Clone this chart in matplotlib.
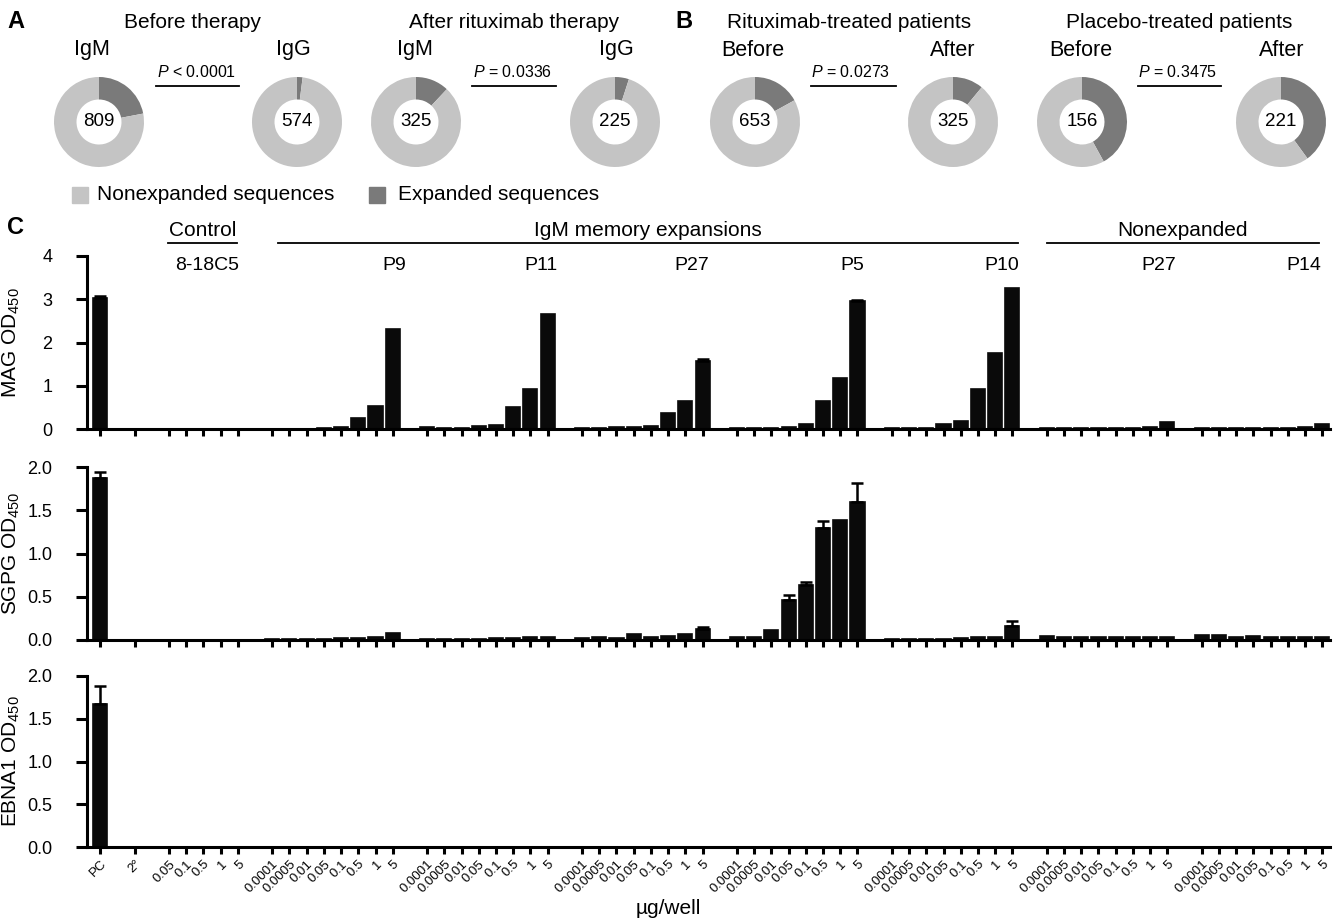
import matplotlib.pyplot as plt
import numpy as np
from matplotlib.patches import Rectangle
from matplotlib.lines import Line2D

plt.rcParams['font.family'] = ['Liberation Sans', 'DejaVu Sans']
plt.rcParams['mathtext.fontset'] = 'custom'
plt.rcParams['mathtext.rm'] = 'Liberation Sans'
plt.rcParams['mathtext.it'] = 'Liberation Sans:italic'

# ---- panels A and B: donuts ----
donut_n = [809, 574, 325, 225, 653, 325, 156, 221]
donut_expanded = [0.22, 0.02, 0.12, 0.05, 0.17, 0.11, 0.42, 0.40]
donut_tops = ['IgM', 'IgG', 'IgM', 'IgG', 'Before', 'After', 'Before', 'After']
pair_titles = ['Before therapy', 'After rituximab therapy',
               'Rituximab-treated patients', 'Placebo-treated patients']
pair_pvals = [r'$\it{P}$ < 0.0001', r'$\it{P}$ = 0.0336',
              r'$\it{P}$ = 0.0273', r'$\it{P}$ = 0.3475']
legend_labels = ['Nonexpanded sequences', 'Expanded sequences']

# ---- panel C: ELISA ----
ctrl_doses = ['0.05', '0.1', '0.5', '1', '5']
doses = ['0.0001', '0.0005', '0.01', '0.05', '0.1', '0.5', '1', '5']
groups = ['8-18C5', 'P9', 'P11', 'P27', 'P5', 'P10', 'P27', 'P14']
headers = ['Control', 'IgM memory expansions', 'Nonexpanded']

mag_pc, mag_pc_err = 3.03, 0.05
mag_2nd = 0.01
mag = [[0.01, 0.01, 0.01, 0.01, 0.01],
       [0.01, 0.01, 0.01, 0.02, 0.04, 0.26, 0.53, 2.31],
       [0.04, 0.02, 0.03, 0.06, 0.10, 0.50, 0.93, 2.66],
       [0.02, 0.02, 0.04, 0.05, 0.08, 0.38, 0.65, 1.57],
       [0.03, 0.03, 0.03, 0.05, 0.12, 0.65, 1.17, 2.95],
       [0.02, 0.02, 0.03, 0.12, 0.19, 0.92, 1.76, 3.25],
       [0.02, 0.02, 0.02, 0.02, 0.02, 0.02, 0.05, 0.17],
       [0.02, 0.02, 0.02, 0.02, 0.02, 0.02, 0.04, 0.12]]
mag_err = [[0] * 5,
           [0] * 8,
           [0] * 8,
           [0, 0, 0, 0, 0, 0, 0, 0.05],
           [0, 0, 0, 0, 0, 0, 0, 0.04],
           [0] * 8,
           [0] * 8,
           [0] * 8]

sgpg_pc, sgpg_pc_err = 1.87, 0.07
sgpg_2nd = 0.005
sgpg = [[0.005, 0.005, 0.005, 0.005, 0.005],
        [0.01, 0.01, 0.01, 0.01, 0.02, 0.02, 0.03, 0.08],
        [0.01, 0.01, 0.01, 0.01, 0.02, 0.02, 0.03, 0.03],
        [0.02, 0.04, 0.02, 0.07, 0.04, 0.05, 0.07, 0.13],
        [0.04, 0.03, 0.12, 0.46, 0.64, 1.30, 1.39, 1.60],
        [0.01, 0.01, 0.01, 0.01, 0.02, 0.03, 0.04, 0.16],
        [0.05, 0.04, 0.04, 0.03, 0.03, 0.03, 0.03, 0.04],
        [0.06, 0.06, 0.04, 0.05, 0.03, 0.03, 0.03, 0.04]]
sgpg_err = [[0] * 5,
            [0] * 8,
            [0] * 8,
            [0, 0, 0, 0, 0, 0, 0, 0.02],
            [0, 0, 0, 0.06, 0.03, 0.07, 0, 0.22],
            [0, 0, 0, 0, 0, 0, 0, 0.06],
            [0] * 8,
            [0] * 8]

ebna_pc, ebna_pc_err = 1.67, 0.21
ebna_2nd = 0.0
ebna = [[0.0] * 5] + [[0.0] * 8 for _ in range(7)]
ebna_err = [[0] * 5] + [[0] * 8 for _ in range(7)]

W, H = 1337, 924
fig = plt.figure(figsize=(W / 100, H / 100), dpi=100)


def fx(x):
    return x / W


def fy(y):
    return 1 - y / H


light, dark = '#c4c4c4', '#7a7a7a'

# donuts
donut_cx = [99, 297, 416, 615, 755, 953, 1082, 1281]
donut_cy, rad = 122, 45
top_cx = [92, 293, 415, 616, 753, 953, 1081, 1282]
for i in range(8):
    a = fig.add_axes([fx(donut_cx[i] - rad), fy(donut_cy + rad), 2 * rad / W, 2 * rad / H])
    f = donut_expanded[i]
    a.pie([f, 1 - f], colors=[dark, light], startangle=90, counterclock=False,
          radius=1, wedgeprops=dict(width=0.5, linewidth=0))
    a.set_xlim(-1, 1)
    a.set_ylim(-1, 1)
    a.set_aspect('auto')
    a.axis('off')
    a.text(0, 0, str(donut_n[i]), ha='center', va='center', fontsize=13.5)
    fig.text(fx(top_cx[i]), fy(50), donut_tops[i], ha='center', va='center', fontsize=15.5)

title_cx = [192, 514, 849, 1179]
p_cx = [197, 513, 851, 1178]
p_lines = [(156, 239), (472, 556), (811, 896), (1138, 1221)]
for i in range(4):
    fig.text(fx(title_cx[i]), fy(23), pair_titles[i], ha='center', va='center', fontsize=15)
    fig.text(fx(p_cx[i]), fy(72), pair_pvals[i], ha='center', va='center', fontsize=11.5)
    fig.add_artist(Line2D([fx(p_lines[i][0]), fx(p_lines[i][1])], [fy(86), fy(86)],
                          color='black', lw=1.3))

# legend
for x0, col, lab, tx in [(72, light, legend_labels[0], 97), (369, dark, legend_labels[1], 398)]:
    fig.add_artist(Rectangle((fx(x0), fy(203)), 16 / W, 16 / H, color=col,
                             transform=fig.transFigure))
    fig.text(fx(tx), fy(195), lab, ha='left', va='center', fontsize=15)

for lab, x, y in [('A', 16, 22), ('B', 684, 22), ('C', 16, 228)]:
    fig.text(fx(x), fy(y), lab, ha='center', va='center', fontsize=17, fontweight='heavy')

# ---- bar positions ----
pos = [0, 2]
labels = ['PC', '2°']
group_pos = []
start = 4
for gi, g in enumerate(groups):
    d = ctrl_doses if gi == 0 else doses
    p = list(range(start, start + len(d)))
    group_pos.append(p)
    pos += p
    labels += d
    start = p[-1] + 2

xl = (-0.76, 71.45)
ax_left, ax_w = fx(87), 1243 / W


def panel(y0, y1, ymax, pcv, pce, sec, vals, errs, yl, ticks, fmt, xt):
    ax = fig.add_axes([ax_left, fy(y0), ax_w, (y0 - y1) / H])
    ax.bar(pos[0], pcv, width=0.82, color='#0a0a0a', edgecolor='#0a0a0a', lw=1.2)
    ax.errorbar(pos[0], pcv, yerr=[[0], [pce]], fmt='none', ecolor='black',
                elinewidth=1.8, capsize=4, capthick=1.8)
    ax.bar(pos[1], sec, width=0.82, color='#0a0a0a', edgecolor='#0a0a0a', lw=1.2)
    for gi in range(len(groups)):
        p = np.array(group_pos[gi])
        v = np.array(vals[gi])
        e = np.array(errs[gi])
        ax.bar(p, v, width=0.82, color='#0a0a0a', edgecolor='#0a0a0a',
               lw=1.2 if v.max() > 0 else 0)
        m = e > 0
        if m.any():
            ax.errorbar(p[m], v[m], yerr=[np.zeros(m.sum()), e[m]], fmt='none',
                        ecolor='black', elinewidth=1.8, capsize=4, capthick=1.8)
    ax.set_xlim(*xl)
    ax.set_ylim(0, ymax)
    ax.set_yticks(ticks)
    ax.set_yticklabels([fmt.format(t) for t in ticks], fontsize=13)
    ax.set_xticks(pos)
    if xt:
        ax.set_xticklabels(labels, rotation=45, ha='right', va='top',
                           rotation_mode='anchor', fontsize=9.5)
    else:
        ax.set_xticklabels([])
    for s in ['top', 'right']:
        ax.spines[s].set_visible(False)
    for s in ['left', 'bottom']:
        ax.spines[s].set_linewidth(2.2)
    ax.tick_params(axis='y', length=8, width=2.2, pad=17)
    ax.tick_params(axis='x', length=5, width=2.2, pad=3)
    ax.set_ylabel(yl, fontsize=15)
    ax.yaxis.set_label_coords((22 - 87) / 1243, 0.5)
    return ax


ax1 = panel(429, 256, 4, mag_pc, mag_pc_err, mag_2nd, mag, mag_err,
            r'MAG OD$_{450}$', [0, 1, 2, 3, 4], '{:g}', False)
panel(640, 467, 2, sgpg_pc, sgpg_pc_err, sgpg_2nd, sgpg, sgpg_err,
      r'SGPG OD$_{450}$', [0, 0.5, 1, 1.5, 2], '{:.1f}', False)
ax3 = panel(847, 676, 2, ebna_pc, ebna_pc_err, ebna_2nd, ebna, ebna_err,
            r'EBNA1 OD$_{450}$', [0, 0.5, 1, 1.5, 2], '{:.1f}', True)
fig.text(fx(668), fy(908), 'µg/well', ha='center', va='center', fontsize=15)

# group headers above panel C
tr = ax1.get_xaxis_transform()
hpx = 173.0
header_spans = [(3.95, 7.95), (10.35, 53.3), (55.0, 70.8)]
for h, (a, b) in zip(headers, header_spans):
    ax1.plot([a, b], [(429 - 243) / hpx] * 2, color='black', lw=1.3,
             transform=tr, clip_on=False)
    ax1.text((a + b) / 2, (429 - 230) / hpx, h, transform=tr, ha='center',
             va='center', fontsize=15)
group_label_x = [6.2, 17.1, 25.6, 34.4, 43.7, 52.4, 61.5, 69.9]
for g, gx in zip(groups, group_label_x):
    ax1.text(gx, (429 - 266) / hpx, g, transform=tr, ha='center', va='center',
             fontsize=14)

fig.savefig('out.png', dpi=100)
